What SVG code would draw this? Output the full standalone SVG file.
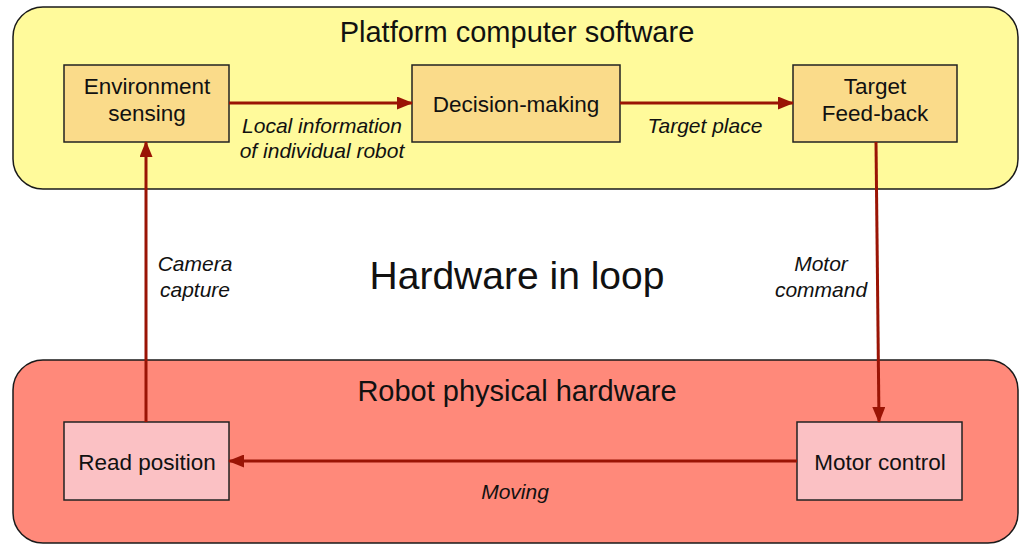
<svg xmlns="http://www.w3.org/2000/svg" width="1021" height="544" viewBox="0 0 1021 544">
<defs>
<style>
.grp{stroke:#1a1a1a;stroke-width:1.5}
.box{stroke:#222;stroke-width:1.5}
.t{font-family:"Liberation Sans",Arial,sans-serif;fill:#111;text-anchor:middle}
.n{font-size:22.5px}
.lbl{font-family:"Liberation Sans",Arial,sans-serif;font-style:italic;font-size:21px;fill:#111;text-anchor:middle}
.c{stroke:#9a1405;stroke-width:3;fill:none}
</style>
<marker id="ah" markerWidth="16" markerHeight="13" refX="15" refY="6.5" orient="auto" markerUnits="userSpaceOnUse">
<path d="M0,0 L16,6.5 L0,13 Z" fill="#9a1405"/>
</marker>
</defs>
<rect width="1021" height="544" fill="#fff"/>
<g id="software">
<rect class="grp" x="13" y="7" width="1005" height="182" rx="30" fill="#fffa9b"/>
<text class="t" x="517" y="42" font-size="29">Platform computer software</text>
</g>
<g id="hardware">
<rect class="grp" x="13" y="360" width="1005" height="183" rx="30" fill="#ff897a"/>
<text class="t" x="517" y="401" font-size="29">Robot physical hardware</text>
</g>
<text class="t" x="517" y="289" font-size="39">Hardware in loop</text>
<g id="env">
<rect class="box" x="64" y="65" width="165" height="77" fill="#fadb8a"/>
<text class="t n" x="147" y="94">Environment</text>
<text class="t n" x="147" y="121">sensing</text>
</g>
<g id="decision">
<rect class="box" x="412" y="65" width="208" height="77" fill="#fadb8a"/>
<text class="t n" x="516" y="112">Decision-making</text>
</g>
<g id="target">
<rect class="box" x="793" y="65" width="164" height="77" fill="#fadb8a"/>
<text class="t n" x="875" y="94">Target</text>
<text class="t n" x="875" y="121">Feed-back</text>
</g>
<g id="read">
<rect class="box" x="64" y="422" width="165" height="78" fill="#fbc1c4"/>
<text class="t n" x="147" y="470">Read position</text>
</g>
<g id="motor">
<rect class="box" x="797" y="422" width="165" height="78" fill="#fbc1c4"/>
<text class="t n" x="880" y="470">Motor control</text>
</g>
<g id="connectors">
<line class="c" x1="229" y1="103" x2="412" y2="103" marker-end="url(#ah)"/>
<line class="c" x1="620" y1="103" x2="793" y2="103" marker-end="url(#ah)"/>
<line class="c" x1="876" y1="142" x2="879" y2="422" marker-end="url(#ah)"/>
<line class="c" x1="797" y1="461" x2="229" y2="461" marker-end="url(#ah)"/>
<line class="c" x1="146" y1="422" x2="146" y2="142" marker-end="url(#ah)"/>
<text class="lbl" x="322" y="133">Local information</text>
<text class="lbl" x="322" y="158">of individual robot</text>
<text class="lbl" x="705" y="133">Target place</text>
<text class="lbl" x="195" y="271">Camera</text>
<text class="lbl" x="195" y="297">capture</text>
<text class="lbl" x="821" y="271">Motor</text>
<text class="lbl" x="821" y="297">command</text>
<text class="lbl" x="515" y="499">Moving</text>
</g>
</svg>
